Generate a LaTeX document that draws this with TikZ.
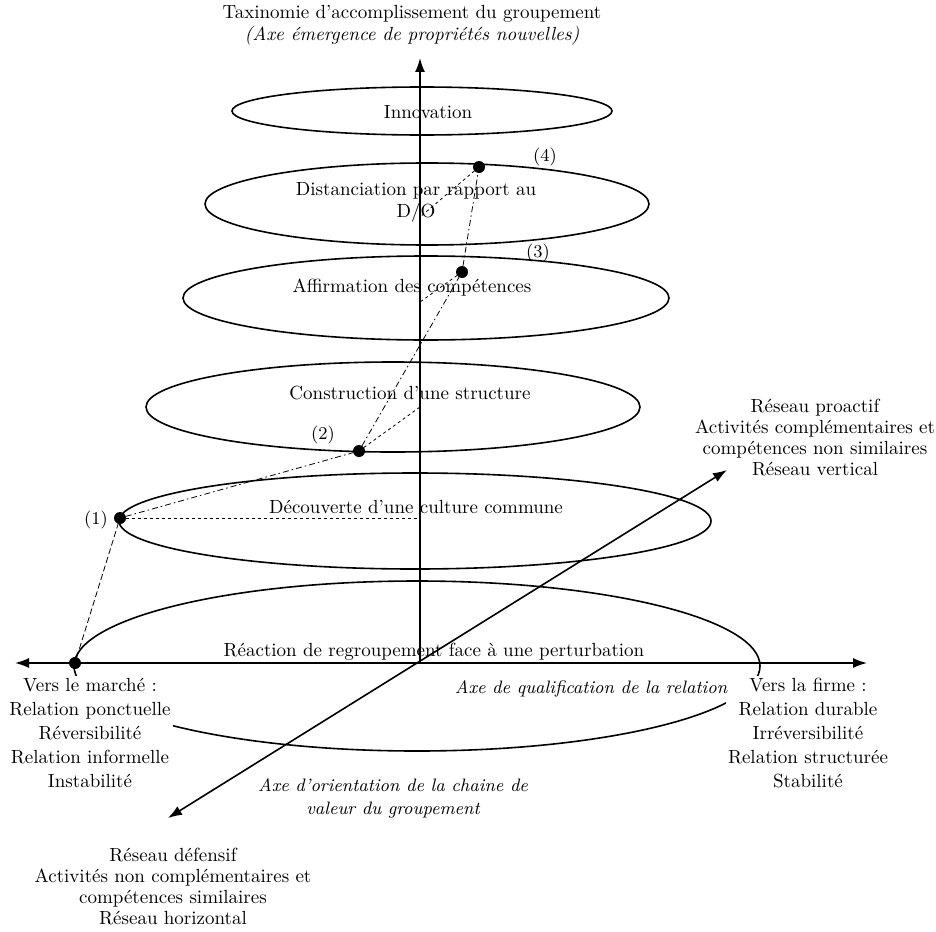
\documentclass[tikz,border=0pt]{standalone}
\usetikzlibrary{positioning,arrows.meta}
\begin{document}
\begin{tikzpicture}[x=0.5pt, y=-0.5pt, outer sep=0pt,
    font=\fontsize{9.5}{11}\selectfont]
  \tikzstyle{level}=[draw, thick]
  \tikzstyle{arrow}=[thick,<->,>={Latex[length=7pt,width=5pt]}, draw=black]
  \tikzstyle{dot}=[circle, fill=black, inner sep=0pt, minimum size=6pt]
  \tikzstyle{trail}=[thin, dash pattern=on 3pt off 1.5pt on 0.8pt off 1.5pt]
  \tikzstyle{proj}=[thin, dash pattern=on 1.5pt off 1.5pt]
  \tikzstyle{txt}=[align=center, inner sep=1pt]
  \tikzstyle{side}=[txt, fill=white, font=\fontsize{9.5}{12}\selectfont]
  \tikzstyle{reseau}=[txt, font=\fontsize{9.5}{10.5}\selectfont]
  \tikzstyle{axe}=[txt, font=\itshape\fontsize{9}{11.5}\selectfont]
  \useasboundingbox (0,0) rectangle (936,931);

  % levels of the grouping
  \draw[level] (422,111) ellipse [x radius=190, y radius=24];
  \draw[level] (427,204) ellipse [x radius=222, y radius=41];
  \draw[level] (426,298) ellipse [x radius=243, y radius=42];
  \draw[level] (393,407) ellipse [x radius=247, y radius=45];
  \draw[level] (415,521) ellipse [x radius=296, y radius=48];
  \draw[level] (417,666) ellipse [x radius=343, y radius=85];

  % axes
  \coordinate (origin) at (420,663);
  \coordinate (top) at (420,58);
  \coordinate (west) at (15,663);
  \coordinate (east) at (867,663);
  \coordinate (sw) at (168,818);
  \coordinate (ne) at (727,470);
  \draw[arrow, <-] (top) -- (origin);
  \draw[arrow] (west) -- (east);
  \draw[arrow] (sw) -- (ne);

  % texts on the levels
  \node[txt] (innov) at (428,112) {Innovation};
  \node[txt] (dist) at (416,202) {Distanciation par rapport au\\ D/O};
  \node[txt] (affirm) at (412,288) {Affirmation des compétences};
  \node[txt] (constr) at (410,393) {Construction d'une structure};
  \node[txt] (decouv) at (416,507) {Découverte d'une culture commune};
  \node[txt] (react) at (434,652) {Réaction de regroupement face à une perturbation};

  % path of the grouping
  \node[dot] (p0) at (75,663) {};
  \node[dot] (p1) at (120,518) {};
  \node[dot] (p2) at (359,451) {};
  \node[dot] (p3) at (462,272) {};
  \node[dot] (p4) at (479,167) {};
  \node[txt, font=\small] (l1) at (96,520) {(1)};
  \node[txt, font=\small] (l2) at (323,435) {(2)};
  \node[txt, font=\small] (l3) at (538,253) {(3)};
  \node[txt, font=\small] (l4) at (545,157) {(4)};
  \draw[trail, dash pattern=on 3pt off 1.5pt] (p0) -- (p1);
  \draw[trail] (p1) -- (p2);
  \draw[trail] (p2) -- (p3);
  \draw[trail] (p3) -- (p4);
  \coordinate (a1) at (420,518);
  \coordinate (a2) at (420,407);
  \coordinate (a3) at (420,302);
  \coordinate (a4) at (420,217);
  \draw[proj] (p1) -- (a1);
  \draw[proj] (p2) -- (a2);
  \draw[proj] (p3) -- (a3);
  \draw[proj] (p4) -- (a4);

  % axis labels
  \node[txt] (vtitle) at (412,25) {Taxinomie d'accomplissement du groupement\\
    \textit{(Axe émergence de propriétés nouvelles)}};
  \node[side] (market) at (90,733) {Vers le marché :\\ Relation ponctuelle\\ Réversibilité\\
    Relation informelle\\ Instabilité};
  \node[side] (firm) at (808,733) {Vers la firme :\\ Relation durable\\ Irréversibilité\\
    Relation structurée\\ Stabilité};
  \node[axe] (qualif) at (591,689) {Axe de qualification de la relation};
  \node[axe] (orient) at (393,798) {Axe d'orientation de la chaine de\\ valeur du groupement};
  \node[reseau] (proact) at (815,438) {Réseau proactif\\ Activités complémentaires et\\
    compétences non similaires\\ Réseau vertical};
  \node[reseau] (defens) at (173,886) {Réseau défensif\\ Activités non complémentaires et\\
    compétences similaires\\ Réseau horizontal};
\end{tikzpicture}
\end{document}
